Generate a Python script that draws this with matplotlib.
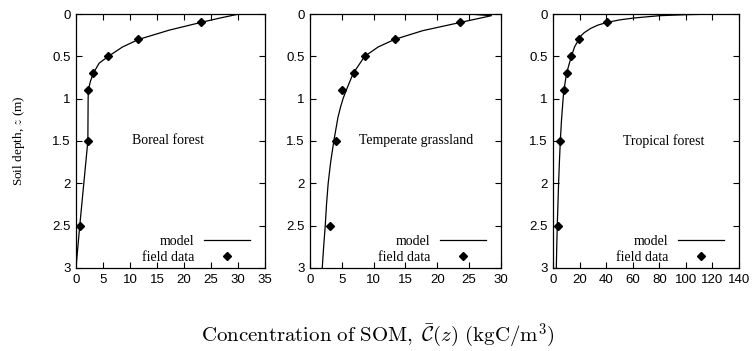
import numpy as np
import matplotlib
matplotlib.use('Agg')
import matplotlib.pyplot as plt

plt.rcParams['mathtext.fontset'] = 'cm'
plt.rcParams['font.family'] = ['Liberation Sans', 'DejaVu Sans']

# field data depths (m)
depths = [0.1, 0.3, 0.5, 0.7, 0.9, 1.5, 2.5]

# boreal forest
boreal_data = [23.1, 11.5, 6.0, 3.2, 2.3, 2.3, 0.7]
boreal_model_z = [0.0, 0.05, 0.1, 0.19, 0.3, 0.39, 0.5, 0.58, 0.7, 0.8, 0.9, 1.0, 1.5, 2.0, 2.5, 3.0]
boreal_model_c = [30.2, 26.5, 23.1, 17.3, 11.6, 8.6, 6.0, 4.3, 3.2, 2.65, 2.3, 2.25, 2.2, 1.45, 0.7, 0.0]

# temperate grassland
grass_model_z = [0.0, 0.02, 0.1, 0.197, 0.3, 0.39, 0.5, 0.7, 0.9, 1.0, 1.1, 1.22, 1.5, 1.75,
                 2.0, 2.25, 2.5, 2.75, 3.0]
grass_model_c = [25.0, 28.5, 23.6, 17.7, 13.3, 10.7, 8.6, 6.8, 5.7, 5.2, 4.8, 4.4, 3.75, 3.25,
                 2.86, 2.6, 2.4, 2.15, 1.93]
grass_data = [23.6, 13.3, 8.7, 6.9, 5.1, 4.1, 3.1]

# tropical forest
trop_data = [40.6, 19.4, 13.8, 10.2, 8.2, 5.5, 4.0]
trop_model_z = [0.0, 0.002, 0.008, 0.02, 0.027, 0.047, 0.07, 0.1, 0.13, 0.169, 0.22, 0.25, 0.3,
                0.39, 0.5, 0.7, 0.9, 1.0, 1.25, 1.5, 1.75, 2.0, 2.25, 2.5, 2.75, 3.0]
trop_model_c = [124, 118, 100, 80, 75, 61, 50, 40.6, 34, 28.5, 23.5, 21.5, 19.4,
                16.2, 13.8, 10.2, 8.2, 7.6, 6.4, 5.5, 4.8, 4.2, 3.7, 3.2, 2.8, 2.5]

panels = [
    ('Boreal forest', boreal_model_c, boreal_model_z, boreal_data, 35, 5, 17),
    ('Temperate grassland', grass_model_c, grass_model_z, grass_data, 30, 5, 16.6),
    ('Tropical forest', trop_model_c, trop_model_z, trop_data, 140, 20, 83),
]

fig = plt.figure(figsize=(7.56, 3.51), dpi=100)
lefts = [0.1005, 0.410, 0.7315]
widths = [0.250, 0.2526, 0.246]

for i, (name, mc, mz, fd, xmax, xstep, tx) in enumerate(panels):
    ax = fig.add_axes([lefts[i], 0.2365, widths[i], 0.7236])
    ax.plot(mc, mz, color='black', lw=0.9, label='model')
    ax.plot(fd, depths, linestyle='none', marker='D', ms=3.8, color='black',
            label='field data')
    ax.set_xlim(0, xmax)
    ax.set_ylim(3, 0)
    ax.set_xticks(np.arange(0, xmax + 1, xstep))
    ax.set_yticks([0, 0.5, 1, 1.5, 2, 2.5, 3])
    ax.set_yticklabels(['0', '0.5', '1', '1.5', '2', '2.5', '3'])
    ax.tick_params(direction='in', top=True, right=True, length=4, width=0.8,
                   labelsize=9.5, pad=4)
    for s in ax.spines.values():
        s.set_linewidth(0.9)
    ax.text(tx, 1.5, name, ha='center', va='center', family='Liberation Serif',
            fontsize=10)
    leg = ax.legend(loc='lower right', frameon=False, markerfirst=False,
                    prop={'family': 'Liberation Serif', 'size': 10},
                    handlelength=3.3, labelspacing=0.2, borderaxespad=0.0,
                    handletextpad=0.7, borderpad=0.3)
    # gnuplot-style key: sample sits inset from the frame
    leg.set_bbox_to_anchor((1.0 - 11 / (widths[i] * 756), 0.0),
                           transform=ax.transAxes)
    if i == 0:
        ax.set_ylabel('Soil depth, $z$ (m)', family='Liberation Serif',
                      fontsize=9.5, labelpad=18)

fig.text(0.5, 0.045,
         r'$\mathrm{Concentration\ of\ SOM,}\ \bar{\mathcal{C}}(z)\ (\mathrm{kgC/m}^3)$',
         ha='center', va='center', fontsize=15)

fig.savefig('out.png', dpi=100)
